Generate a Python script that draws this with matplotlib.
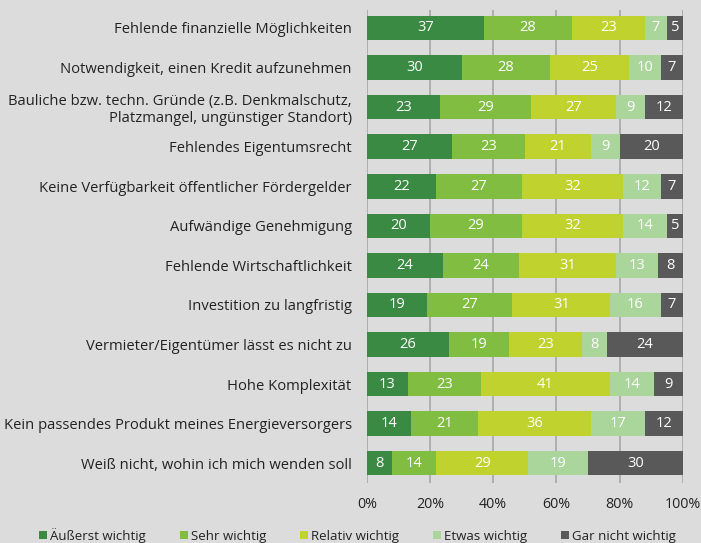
import matplotlib.pyplot as plt
import numpy as np
from matplotlib.patches import Patch

plt.rcParams['font.family'] = ['Open Sans', 'DejaVu Sans']

categories = [
    "Fehlende finanzielle Möglichkeiten",
    "Notwendigkeit, einen Kredit aufzunehmen",
    "Bauliche bzw. techn. Gründe (z.B. Denkmalschutz,\nPlatzmangel, ungünstiger Standort)",
    "Fehlendes Eigentumsrecht",
    "Keine Verfügbarkeit öffentlicher Fördergelder",
    "Aufwändige Genehmigung",
    "Fehlende Wirtschaftlichkeit",
    "Investition zu langfristig",
    "Vermieter/Eigentümer lässt es nicht zu",
    "Hohe Komplexität",
    "Kein passendes Produkt meines Energieversorgers",
    "Weiß nicht, wohin ich mich wenden soll",
]
series_names = ["Äußerst wichtig", "Sehr wichtig", "Relativ wichtig",
                "Etwas wichtig", "Gar nicht wichtig"]
aeusserst = [37, 30, 23, 27, 22, 20, 24, 19, 26, 13, 14, 8]
sehr = [28, 28, 29, 23, 27, 29, 24, 27, 19, 23, 21, 14]
relativ = [23, 25, 27, 21, 32, 32, 31, 31, 23, 41, 36, 29]
etwas = [7, 10, 9, 9, 12, 14, 13, 16, 8, 14, 17, 19]
gar_nicht = [5, 7, 12, 20, 7, 5, 8, 7, 24, 9, 12, 30]
series = [aeusserst, sehr, relativ, etwas, gar_nicht]
colors = ["#3a8a43", "#80bd41", "#bfd22e", "#aad59b", "#595959"]
bg = "#dcdcdc"

fig = plt.figure(figsize=(7.01, 5.43), dpi=100, facecolor=bg)
ax = fig.add_axes([0.5235, 0.1105, 0.4505, 0.8715], facecolor=bg)

y = np.arange(len(categories))
left = np.zeros(len(categories))
for vals, col in zip(series, colors):
    vals = np.array(vals)
    ax.barh(y, vals, left=left, height=0.62, color=col, edgecolor="none", zorder=3)
    for yi, l, v in zip(y, left, vals):
        ax.text(l + v / 2, yi, str(v), ha="center", va="center",
                color="white", fontsize=10.5, zorder=4)
    left += vals

ax.set_xlim(0, 100)
ax.set_ylim(11.5, -0.46)
ax.set_xticks(np.arange(0, 101, 20))
ax.set_xticklabels([f"{t}%" for t in range(0, 101, 20)], fontsize=10.3, color="#222222")
ax.set_yticks(y)
ax.set_yticklabels(categories, fontsize=10.6, color="#222222", ha="right")
ax.tick_params(axis="y", length=0, pad=11)
ax.tick_params(axis="x", length=0, pad=10)
ax.grid(axis="x", color="#a6a6a6", lw=1.2, zorder=0)
for s in ax.spines.values():
    s.set_visible(False)

handles = [Patch(facecolor=c, edgecolor="none") for c in colors]
fig.legend(handles, series_names, loc="center", bbox_to_anchor=(0.51, 0.014),
           ncol=5, frameon=False, fontsize=9.5, handlelength=0.6, handleheight=0.6,
           handletextpad=0.2, columnspacing=2.6, labelcolor="#222222")

fig.savefig("out.png", dpi=100, facecolor=bg)
